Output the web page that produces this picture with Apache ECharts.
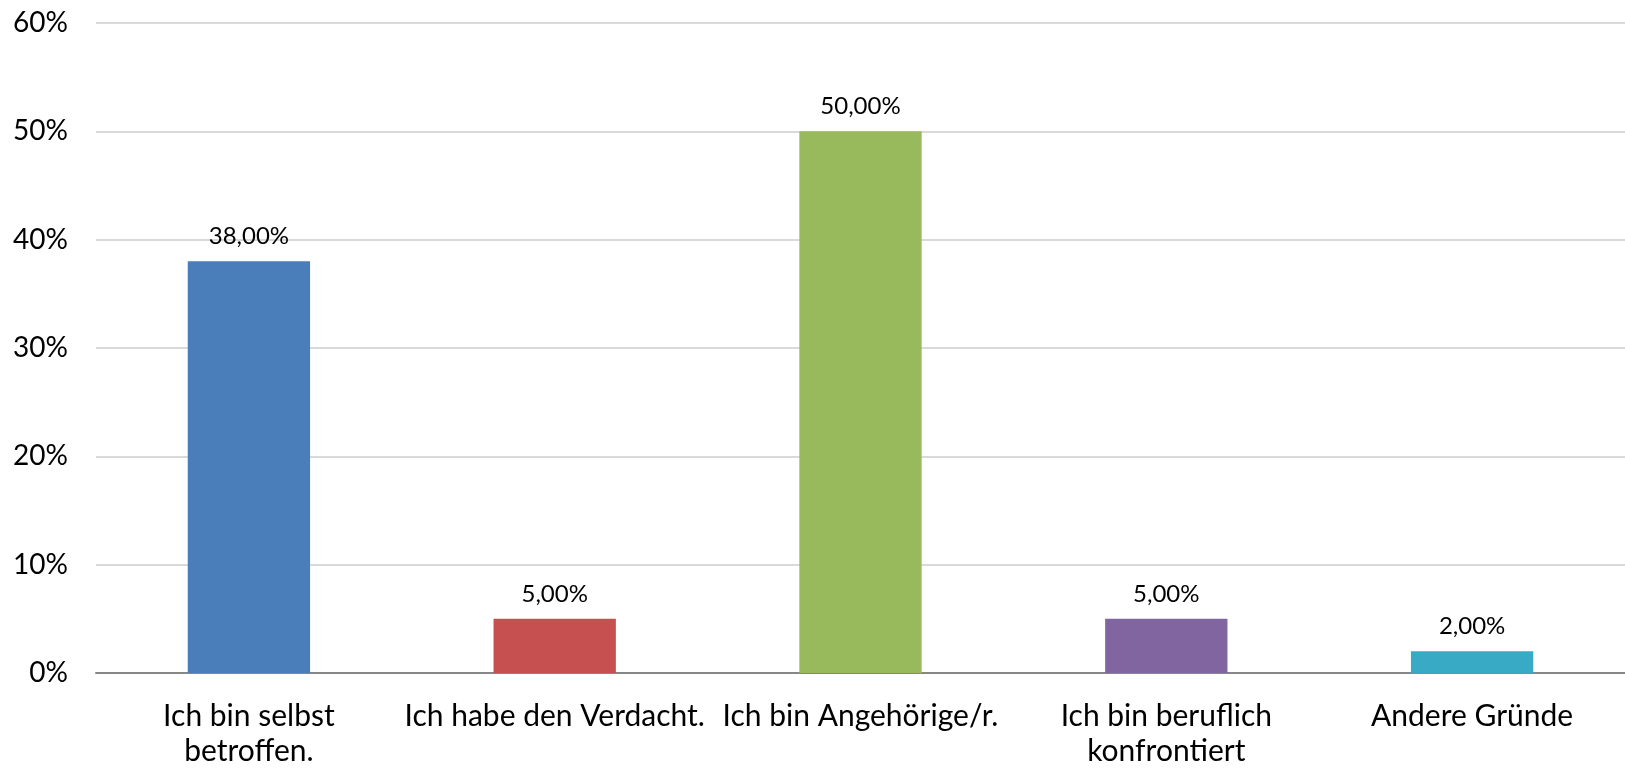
<!DOCTYPE html>
<html>
<head>
<meta charset="utf-8">
<script src="https://cdn.jsdelivr.net/npm/echarts@6/dist/echarts.min.js"></script>
<style>
  html, body { margin: 0; padding: 0; background: #fff; }
  #chart { width: 1625px; height: 769px; }
</style>
</head>
<body>
<div id="chart"></div>
<script>
// Kategorien (Excel bricht die langen Beschriftungen um)
var categories = [
  'Ich bin selbst\nbetroffen.',
  'Ich habe den Verdacht.',
  'Ich bin Angehörige/r.',
  'Ich bin beruflich\nkonfrontiert',
  'Andere Gründe'
];
// Anteile in Prozent
var values = [38, 5, 50, 5, 2];
var barColors = ['#4A7EBB', '#C5504F', '#98BA5D', '#8165A1', '#38AAC5'];
var yTicks = [0, 10, 20, 30, 40, 50, 60];

var fontFamily = 'Lato, "Noto Sans", sans-serif';

var myChart = echarts.init(document.getElementById('chart'));
var option = {
  backgroundColor: '#fff',
  animation: false,
  grid: {
    left: 96,
    top: 23,
    width: 1542,
    height: 650.5,
    containLabel: false
  },
  xAxis: {
    type: 'category',
    data: categories,
    axisLine: { lineStyle: { color: '#878787', width: 2 } },
    axisTick: { show: false },
    axisLabel: {
      interval: 0,
      margin: 26,
      color: '#000',
      fontSize: 30,
      lineHeight: 35,
      fontFamily: fontFamily
    }
  },
  yAxis: {
    type: 'value',
    min: yTicks[0],
    max: yTicks[yTicks.length - 1],
    interval: yTicks[1] - yTicks[0],
    axisLine: { show: false },
    axisTick: { show: false },
    splitLine: { lineStyle: { color: '#D9D9D9', width: 2 } },
    axisLabel: {
      margin: 28,
      color: '#000',
      fontSize: 28,
      fontFamily: fontFamily,
      formatter: '{value}%'
    }
  },
  series: [{
    type: 'bar',
    barWidth: '40%',
    data: values.map(function (v, i) {
      return { value: v, itemStyle: { color: barColors[i] } };
    }),
    label: {
      show: true,
      position: 'top',
      distance: 13,
      color: '#000',
      fontSize: 24,
      fontFamily: fontFamily,
      formatter: function (p) {
        return p.value.toFixed(2).replace('.', ',') + '%';
      }
    }
  }]
};
myChart.setOption(option);
</script>
</body>
</html>
